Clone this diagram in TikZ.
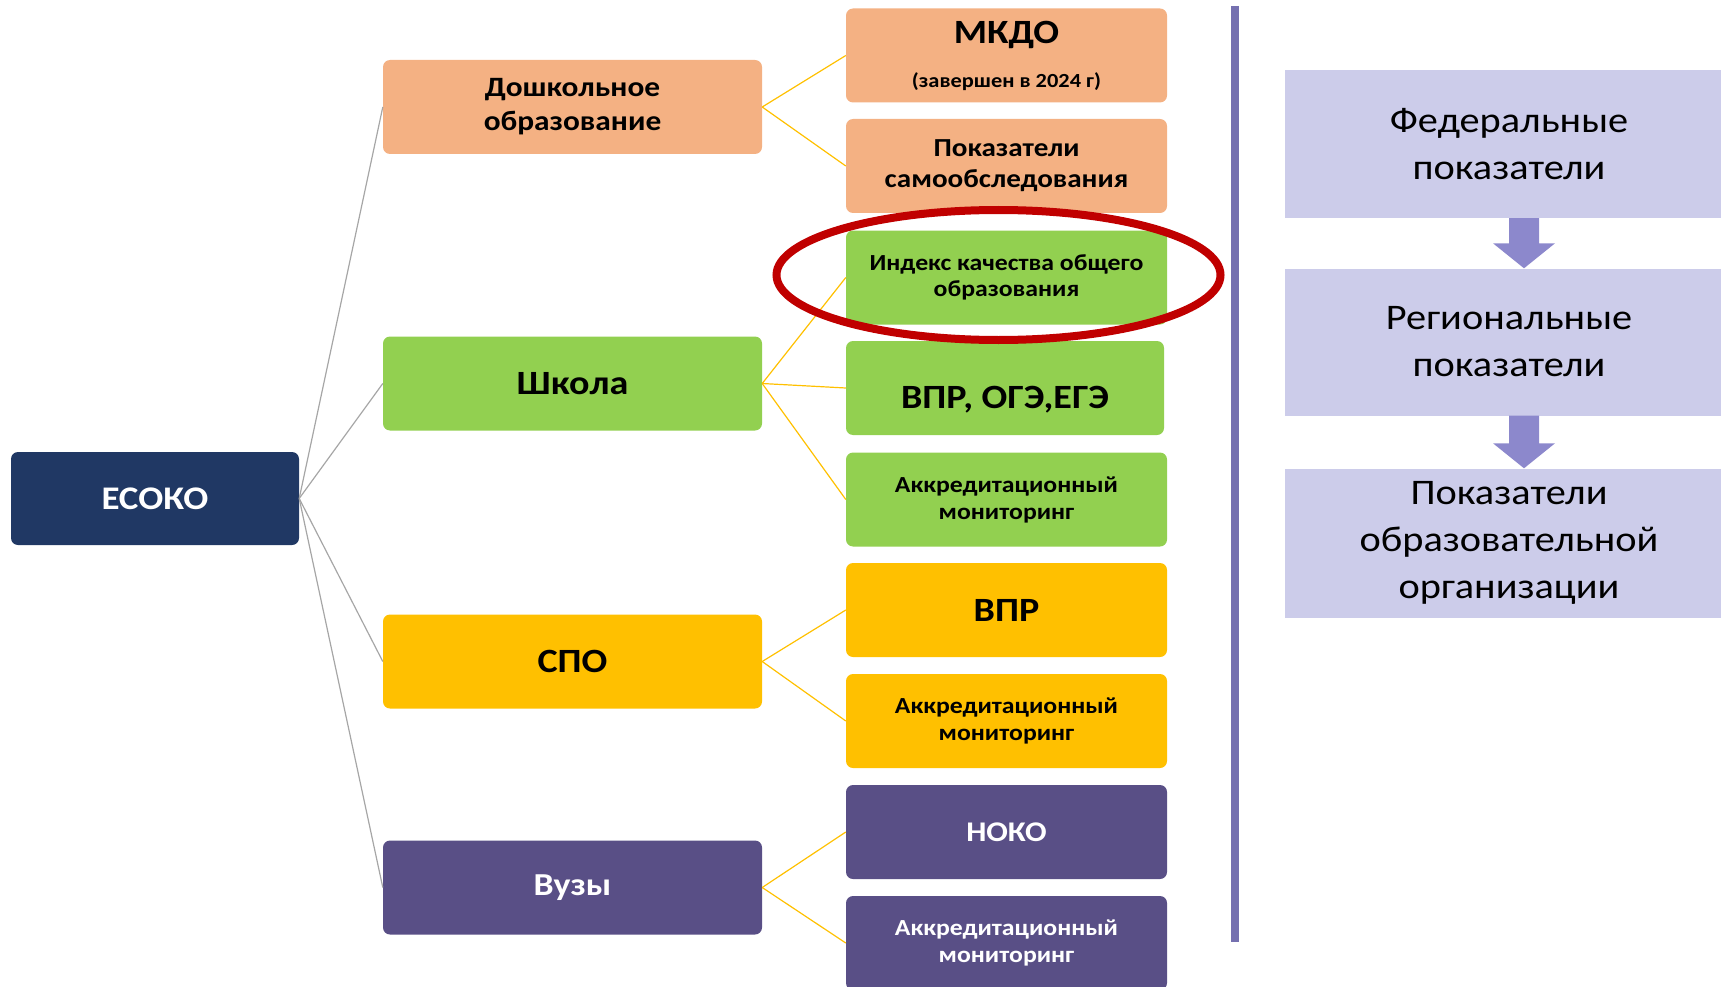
\documentclass[tikz,border=0pt]{standalone}
\usepackage{fontspec}
\setmainfont{Carlito}[FakeStretch=1.12]
\usetikzlibrary{calc}

\definecolor{esokoblue}{HTML}{203864}
\definecolor{peach}{HTML}{F4B183}
\definecolor{grass}{HTML}{92D050}
\definecolor{amber}{HTML}{FFC000}
\definecolor{plum}{HTML}{594F86}
\definecolor{lilac}{HTML}{CCCCEA}
\definecolor{lilacdark}{HTML}{8C88CC}
\definecolor{divider}{HTML}{7570B0}
\definecolor{markred}{HTML}{C00000}

\tikzset{
  card/.style={rounded corners=7pt, align=center, inner sep=0pt},
  branch/.style={card, minimum width=379pt, minimum height=94pt},
  sub/.style={card, minimum width=321pt, minimum height=94pt},
  level/.style={fill=lilac, minimum width=448pt, align=center, inner sep=0pt,
    font=\fontsize{36}{47}\selectfont},
  trunk/.style={draw=gray!70, line width=1.2pt},
  twig/.style={draw=amber, line width=1.2pt},
}

\newcommand{\fs}[2]{\fontsize{#1}{#2}\selectfont}

\begin{document}
\begin{tikzpicture}[x=1pt, y=-1pt]
    \clip (0,0) rectangle (1721,987);

    % Root
    \node[card, fill=esokoblue, text=white, minimum width=288pt, minimum height=93pt,
          font=\bfseries\fs{33}{38}] (esoko) at (155,498.5) {ЕСОКО};

    % Levels of education
    \node[branch, fill=peach, font=\bfseries\fs{28}{34}] (pre) at (572.5,107) {Дошкольное\\образование};
    \node[branch, fill=grass, font=\bfseries\fs{34}{40}] (school) at (572.5,383.5) {Школа};
    \node[branch, fill=amber, font=\bfseries\fs{34}{40}] (spo) at (572.5,661.5) {СПО};
    \node[branch, fill=plum, text=white, font=\bfseries\fs{32}{38}] (uni) at (572.5,887.5) {Вузы};

    % Procedures
    \node[sub, fill=peach, font=\bfseries] (mkdo) at (1006.5,55.5)
        {\fs{34}{40}МКДО\\[23pt]\fs{20}{22}(завершен в 2024 г)};
    \node[sub, fill=peach, font=\bfseries\fs{26}{31}] (self) at (1006.5,166) {Показатели\\самообследования};
    \node[sub, fill=grass, font=\bfseries\fs{23}{26}] (idx) at (1006.5,277.5) {Индекс качества общего\\образования};
    \node[sub, fill=grass, minimum width=318pt, text height=40pt, text depth=0pt,
          font=\bfseries\fs{34}{40}] (exams) at (1005,388) {ВПР, ОГЭ,ЕГЭ};
    \node[sub, fill=grass, font=\bfseries\fs{23}{27}] (accsch) at (1006.5,499.5) {Аккредитационный\\мониторинг};
    \node[sub, fill=amber, font=\bfseries\fs{34}{40}] (vpr) at (1006.5,610) {ВПР};
    \node[sub, fill=amber, font=\bfseries\fs{23}{27}] (accspo) at (1006.5,721) {Аккредитационный\\мониторинг};
    \node[sub, fill=plum, text=white, font=\bfseries\fs{28.5}{34}] (noko) at (1006.5,832) {НОКО};
    \node[sub, fill=plum, text=white, font=\bfseries\fs{23}{27}] (accuni) at (1006.5,943) {Аккредитационный\\мониторинг};

    % Connectors
    \foreach \b in {pre, school, spo, uni}
        \draw[trunk] (esoko.east) -- (\b.west);
    \foreach \a/\b in {pre/mkdo, pre/self, school/idx, school/exams, school/accsch,
                       spo/vpr, spo/accspo, uni/noko, uni/accuni}
        \draw[twig] (\a.east) -- (\b.west);

    % Divider
    \draw[divider, line width=8pt] (1235,6) -- (1235,942);

    % Indicator levels
    \node[level, minimum height=148pt] (fed) at (1509,144) {Федеральные\\показатели};
    \node[level, minimum height=147pt] (reg) at (1509,342) {Региональные\\показатели};
    \node[level, minimum height=149pt] (org) at (1509,543) {Показатели\\образовательной\\организации};

    % Block arrows between levels
    \coordinate (axis) at (1524,0);
    \foreach \a/\b in {fed/reg, reg/org}
        \fill[lilacdark] ($(\a.south -| axis)+(-15,0)$) -- ($(\a.south -| axis)+(15,0)$)
            -- ($(\b.north -| axis)+(15,-25)$) -- ($(\b.north -| axis)+(31,-25)$)
            -- (\b.north -| axis) -- ($(\b.north -| axis)+(-31,-25)$)
            -- ($(\b.north -| axis)+(-15,-25)$) -- cycle;

    % Highlight
    \draw[markred, line width=8pt] ($(idx.center)+(-8,-2.5)$) ellipse [x radius=222pt, y radius=65pt];
\end{tikzpicture}
\end{document}
